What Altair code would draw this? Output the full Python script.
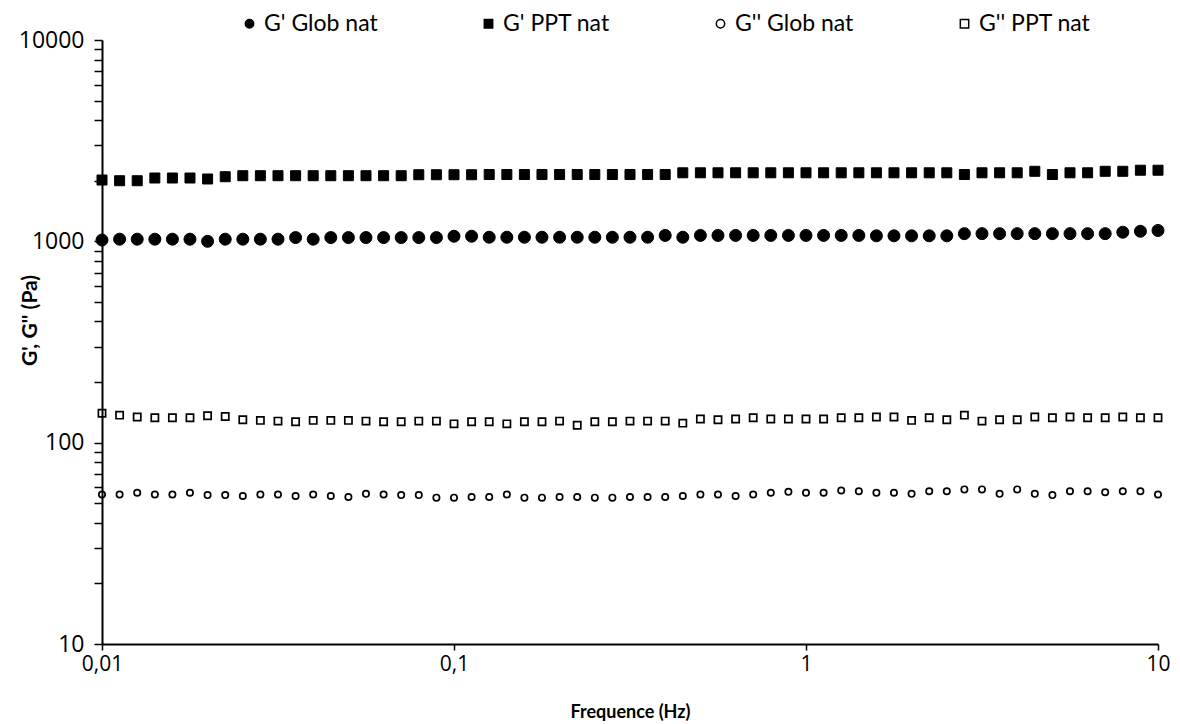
import altair as alt
import pandas as pd

freq = [
    0.01, 0.01122, 0.01259, 0.01413, 0.01585, 0.01778, 0.01995, 0.02239, 0.02512, 0.02818,
    0.03162, 0.03548, 0.03981, 0.04467, 0.05012, 0.05623, 0.0631, 0.07079, 0.07943, 0.08913,
    0.1, 0.1122, 0.1259, 0.1413, 0.1585, 0.1778, 0.1995, 0.2239, 0.2512, 0.2818,
    0.3162, 0.3548, 0.3981, 0.4467, 0.5012, 0.5623, 0.631, 0.7079, 0.7943, 0.8913,
    1.0, 1.122, 1.259, 1.413, 1.585, 1.778, 1.995, 2.239, 2.512, 2.818,
    3.162, 3.548, 3.981, 4.467, 5.012, 5.623, 6.31, 7.079, 7.943, 8.913,
    10.0,
]

g1_glob = [
    1015, 1025, 1025, 1025, 1025, 1025, 1000, 1025, 1025, 1025, 1025, 1044, 1025, 1044, 1044,
    1044, 1044, 1044, 1044, 1044, 1060, 1060,
    1048, 1048, 1048, 1048, 1048, 1048, 1048, 1048, 1048, 1048,
    1070, 1048,
    1070, 1070, 1070, 1070, 1070, 1070, 1070, 1070, 1070, 1070,
    1065, 1065, 1065, 1065, 1065,
    1092, 1092, 1092, 1092, 1092, 1092, 1092, 1092, 1092,
    1110, 1122, 1132,
]

g1_ppt = [
    2016, 2000, 2000, 2063, 2063, 2063, 2040, 2094,
    2118, 2118, 2118, 2118, 2118, 2118, 2118, 2118, 2118, 2118,
    2142, 2142, 2142, 2142,
    2147, 2147, 2147, 2147, 2147, 2147, 2147, 2147, 2147, 2147, 2147,
    2190, 2190, 2190, 2190, 2190, 2190, 2190, 2190, 2190, 2190, 2190,
    2190, 2190, 2190, 2190, 2190,
    2147, 2190, 2190, 2190, 2228, 2147, 2190, 2190, 2228, 2228, 2255, 2255,
]

g2_glob = [
    55.3, 55.3, 56.4, 55.3, 55.3, 56.4, 54.9, 54.9, 54.3, 55.3, 55.3, 54.3, 55.3, 54.3, 53.7,
    55.7, 55.3, 54.9, 54.9, 53.3, 53.3, 53.7,
    53.7, 55.3, 53.3, 53.3, 53.7, 53.7, 53.3, 53.3, 53.7, 53.7, 53.7, 54.3, 55.3, 55.3, 54.3,
    55.3, 56.4, 57.0, 56.4, 56.4, 57.9, 57.4,
    56.4, 56.4, 55.7, 57.4, 57.4, 58.6, 58.6, 55.7, 58.6, 55.7, 54.9, 57.4, 57.4, 56.7, 57.4,
    57.4, 55.3,
]

g2_ppt = [
    140, 137, 134, 133, 133, 133, 136, 135, 130, 129, 128, 127, 129, 129, 129, 128, 127, 127,
    128, 128, 124, 127,
    127, 124, 127, 127, 128, 122, 127, 127, 128, 128, 128, 125, 131, 130, 131, 133, 131, 131,
    131, 131, 133, 133,
    134, 134, 129, 133, 130, 137, 128, 130, 130, 134, 133, 134, 133, 133, 134, 133, 133,
]

series_names = ["G' Glob nat", "G' PPT nat", "G'' Glob nat", "G'' PPT nat"]
series_values = [g1_glob, g1_ppt, g2_glob, g2_ppt]
marker_sizes = [144, 100, 40, 52]
marker_strokes = [1, 1, 1.7, 1.7]

rows = []
for name, vals in zip(series_names, series_values):
    for f, v in zip(freq, vals):
        rows.append({"freq": f, "G": v, "series": name})
df = pd.DataFrame(rows)

x_ticks = [0.01, 0.1, 1, 10]
y_ticks = []
for dec in [10, 100, 1000]:
    for m in range(1, 10):
        y_ticks.append(dec * m)
y_ticks.append(10000)

FONT_LBL = "Open Sans"
FONT_TTL = "Lato"

x_enc = alt.X(
    "freq:Q",
    scale=alt.Scale(type="log", domain=[0.01, 10], nice=False),
    axis=alt.Axis(
        values=x_ticks,
        labelExpr="replace(toString(datum.value), '.', ',')",
        title="Frequence (Hz)",
        titleFont=FONT_TTL,
        titleFontSize=18,
        titleFontWeight="bold",
        titlePadding=29,
        labelFont=FONT_LBL,
        labelFontSize=21,
        labelPadding=3,
        tickSize=6,
        labelFlush=False,
    ),
)
y_enc = alt.Y(
    "G:Q",
    scale=alt.Scale(type="log", domain=[10, 10000], nice=False),
    axis=alt.Axis(
        values=y_ticks,
        labelExpr="indexof(['10','100','1000','10000'], toString(datum.value)) >= 0 ? toString(datum.value) : ''",
        title="G', G'' (Pa)",
        titleFont=FONT_TTL,
        titleFontSize=21,
        titleFontWeight="bold",
        titleX=-72,
        titleY=280,
        titleAlign="center",
        titleBaseline="middle",
        labelFont=FONT_LBL,
        labelFontSize=23,
        labelPadding=10,
        tickSize=8,
        labelFlush=False,
    ),
)
legend = alt.Legend(
    title=None,
    orient="none",
    legendX=136,
    legendY=-28,
    direction="horizontal",
    columns=4,
    columnPadding=99,
    labelFont=FONT_TTL,
    labelFontSize=23,
    labelColor="black",
    symbolSize=70,
    symbolStrokeColor="black",
    symbolStrokeWidth=1.5,
    labelOffset=3,
    padding=0,
)
shape_enc = alt.Shape(
    "series:N",
    scale=alt.Scale(domain=series_names, range=["circle", "square", "circle", "square"]),
    legend=legend,
)
fill_enc = alt.Fill(
    "series:N",
    scale=alt.Scale(domain=series_names, range=["black", "black", "transparent", "transparent"]),
    legend=legend,
)
stroke_enc = alt.Stroke(
    "series:N",
    scale=alt.Scale(domain=series_names, range=["black", "black", "black", "black"]),
    legend=legend,
)

base = alt.Chart(df)
layers = []
for name, sz, sw in zip(series_names, marker_sizes, marker_strokes):
    layers.append(
        base.transform_filter(alt.datum.series == name)
        .mark_point(filled=True, opacity=1, size=sz, strokeWidth=sw)
        .encode(x=x_enc, y=y_enc, shape=shape_enc, fill=fill_enc, stroke=stroke_enc)
    )

chart = alt.layer(*layers).properties(
    width=1056,
    height=604,
    padding={"left": 94, "top": 32, "right": 14, "bottom": 84},
    autosize=alt.AutoSizeParams(type="none"),
).configure_view(
    stroke=None
).configure_axis(
    grid=False,
    domainColor="black",
    domainWidth=2,
    tickColor="black",
    tickWidth=1.5,
    labelColor="black",
    titleColor="black",
)

chart.save("out.html", embed_options={"renderer": "svg", "actions": False})
